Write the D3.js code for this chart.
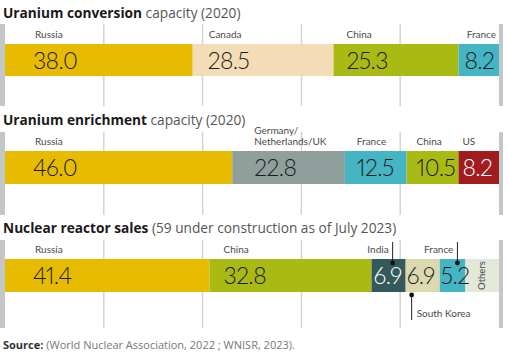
<!DOCTYPE html>
<html><head><meta charset="utf-8">
<script src="https://cdn.jsdelivr.net/npm/d3@7"></script>
<style>
html,body{margin:0;padding:0;background:#fff;}
svg{display:block;}
text{font-family:Lato,"Open Sans",sans-serif;}
.val{font-feature-settings:"pnum" 1;font-variant-numeric:proportional-nums;}
.ttl{font-family:"Open Sans",Lato,sans-serif;}
</style></head>
<body>
<script>
// ---- data ----
const conversionCountries = ["Russia", "Canada", "China", "France"];
const conversionValues = [38.0, 28.5, 25.3, 8.2];
const enrichmentCountries = ["Russia", "Germany/|Netherlands/UK", "France", "China", "US"];
const enrichmentValues = [46.0, 22.8, 12.5, 10.5, 8.2];
const reactorCountries = ["Russia", "China", "India", "South Korea", "France", "Others"];
const reactorValues = [41.4, 32.8, 6.9, 6.9, 5.2, 6.8];
const gridTicks = [20, 40, 60, 80];
const titles = [
  ["Uranium conversion", " capacity (2020)"],
  ["Uranium enrichment", " capacity (2020)"],
  ["Nuclear reactor sales", " (59 under construction as of July 2023)"]
];

// ---- styles / layout ----
const colors = {
  "Russia": "#E6BB00", "Canada": "#F3DCB6", "China": "#A9BA14", "France": "#45B4C3",
  "Germany/|Netherlands/UK": "#8FA09C", "US": "#A01C1E", "India": "#34595A",
  "South Korea": "#DCD8B0", "Others": "#E3E8D9"
};
const whiteText = new Set(["US", "India"]);

const W = 508, H = 354;
const svg = d3.select("body").append("svg").attr("width", W).attr("height", H);
const x = d3.scaleLinear().domain([0, 100]).range([5, 499]);

const panels = [
  {countries: conversionCountries, values: conversionValues, titleY: 18, top: 24, bottom: 106, barY: 44, barH: 32, labelY: 38,
   valOff: [28, 15, 13, 6], labOff: [30, 16, 13, null]},
  {countries: enrichmentCountries, values: enrichmentValues, titleY: 125, top: 132, bottom: 215, barY: 151, barH: 33, labelY: 145,
   valOff: [28, 22, 12, 10, 4], labOff: [30, 22, 12, 10, 4]},
  {countries: reactorCountries, values: reactorValues, titleY: 233, top: 240, bottom: 328, barY: 259, barH: 33, labelY: 253,
   valOff: [28, 14, 2, 1, 1, null], labOff: [30, 14, null, null, null, null]}
];

panels.forEach((p, pi) => {
  const g = svg.append("g");
  const t = g.append("text").attr("class", "ttl").attr("x", 3).attr("y", p.titleY).attr("font-size", 13.7);
  t.append("tspan").attr("font-weight", 700).attr("fill", "#1a1a1a").text(titles[pi][0]);
  t.append("tspan").attr("fill", "#555").text(titles[pi][1]);

  g.append("rect").attr("x", 0).attr("y", p.top).attr("width", 5).attr("height", p.bottom - p.top).attr("fill", "#C3C7C9");
  g.append("rect").attr("x", 499).attr("y", p.top).attr("width", 4).attr("height", p.bottom - p.top).attr("fill", "#C3C7C9");
  g.selectAll("line.grid").data(gridTicks).join("line")
    .attr("x1", d => x(d)).attr("x2", d => x(d)).attr("y1", p.top).attr("y2", p.bottom)
    .attr("stroke", "#D3D3D3").attr("stroke-width", 1.5);

  const starts = [];
  let acc = 0;
  p.values.forEach(v => { starts.push(acc); acc += v; });
  const segs = p.countries.map((c, i) => ({c, v: p.values[i], s: starts[i]}));

  g.selectAll("rect.seg").data(segs).join("rect")
    .attr("x", d => x(d.s)).attr("y", p.barY)
    .attr("width", d => x(d.s + d.v) - x(d.s)).attr("height", p.barH)
    .attr("fill", d => colors[d.c]);

  segs.forEach((d, i) => {
    if (p.valOff[i] == null) return;
    g.append("text").attr("class", "val").attr("x", x(d.s) + p.valOff[i]).attr("y", p.barY + p.barH / 2 + 8.5)
      .attr("font-size", 23).attr("font-weight", 300).attr("letter-spacing", -0.6)
      .attr("fill", whiteText.has(d.c) ? "#fff" : "#1c1c1c").text(d.v.toFixed(1));
  });
  segs.forEach((d, i) => {
    if (p.labOff[i] == null) return;
    const parts = d.c.split("|");
    const tx = g.append("text").attr("x", x(d.s) + p.labOff[i]).attr("y", p.labelY - (parts.length - 1) * 11)
      .attr("font-size", 10).attr("fill", "#4a4a4a");
    parts.forEach((pt, k) => tx.append("tspan").attr("x", x(d.s) + p.labOff[i]).attr("dy", k ? 11 : 0).text(pt));
  });

  if (pi === 0) {
    g.append("text").attr("x", x(100) - 3).attr("y", p.labelY).attr("text-anchor", "end")
      .attr("font-size", 10).attr("fill", "#4a4a4a").text(conversionCountries[3]);
  }
  if (pi === 2) {
    const ind = segs[2], sk = segs[3], fr = segs[4], ot = segs[5];
    const dot = (cx, cy) => g.append("circle").attr("cx", cx).attr("cy", cy).attr("r", 2.4).attr("fill", "#111");
    const ln = (x0, y0, y1) => g.append("line").attr("x1", x0).attr("x2", x0).attr("y1", y0).attr("y2", y1).attr("stroke", "#222").attr("stroke-width", 1);
    const ix = x(ind.s + ind.v) - 13;
    ln(ix, 242, 263); dot(ix, 263);
    g.append("text").attr("x", ix - 4).attr("y", p.labelY).attr("text-anchor", "end").attr("font-size", 10).attr("fill", "#4a4a4a").text(ind.c);
    const fx = x(fr.s + fr.v) - 8;
    ln(fx, 242, 263); dot(fx, 263);
    g.append("text").attr("x", fx - 4).attr("y", p.labelY).attr("text-anchor", "end").attr("font-size", 10).attr("fill", "#4a4a4a").text(fr.c);
    const sx = x(sk.s) + 6;
    ln(sx, 295, 320); dot(sx, 295);
    g.append("text").attr("x", sx + 5).attr("y", 317).attr("font-size", 10).attr("fill", "#4a4a4a").text(sk.c);
    const ox = (x(ot.s) + x(ot.s + ot.v)) / 2 - 1;
    g.append("text").attr("transform", `translate(${ox + 3.5},${p.barY + p.barH / 2}) rotate(-90)`)
      .attr("text-anchor", "middle").attr("font-size", 9.5).attr("fill", "#4a4a4a").text(ot.c);
  }
});

const src = svg.append("text").attr("class", "ttl").attr("x", 3).attr("y", 349).attr("font-size", 11);
src.append("tspan").attr("font-weight", 700).attr("fill", "#333").text("Source:");
src.append("tspan").attr("fill", "#777").text(" (World Nuclear Association, 2022 ; WNISR, 2023).");
</script>
</body></html>
